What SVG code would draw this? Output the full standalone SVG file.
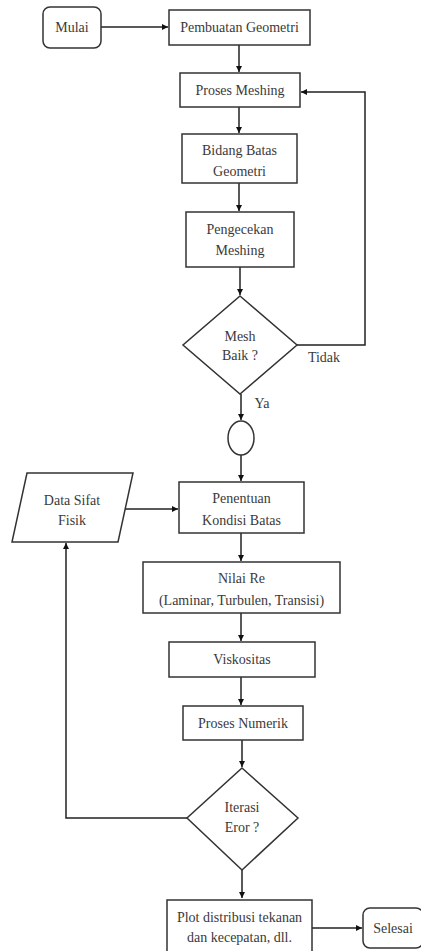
<svg xmlns="http://www.w3.org/2000/svg" width="421" height="951" viewBox="0 0 421 951">
<style>
.s{fill:#fff;stroke:#333;stroke-width:1.5}
.t{font-family:'Liberation Serif','Times New Roman',serif;font-size:14px;fill:#3a3a3a;text-anchor:middle}
.c{fill:none;stroke:#222;stroke-width:1.5}
</style>
<defs>
<marker id="a" viewBox="0 0 10 10" refX="10" refY="5" markerWidth="6" markerHeight="6" markerUnits="userSpaceOnUse" orient="auto"><path d="M0,0L10,5L0,10z" fill="#111"/></marker>
</defs>
<rect width="421" height="951" fill="#fff"/>
<g id="connectors">
<path class="c" d="M101,27H168" marker-end="url(#a)"/>
<path class="c" d="M239,45V72" marker-end="url(#a)"/>
<path class="c" d="M239,107V133" marker-end="url(#a)"/>
<path class="c" d="M239,183V211" marker-end="url(#a)"/>
<path class="c" d="M240,267V295" marker-end="url(#a)"/>
<path class="c" d="M297,345H365V92H301" marker-end="url(#a)"/>
<path class="c" d="M241,394V420" marker-end="url(#a)"/>
<path class="c" d="M241,455V481" marker-end="url(#a)"/>
<path class="c" d="M125,509H178" marker-end="url(#a)"/>
<path class="c" d="M241,533V561" marker-end="url(#a)"/>
<path class="c" d="M241,613V641" marker-end="url(#a)"/>
<path class="c" d="M241,677V705" marker-end="url(#a)"/>
<path class="c" d="M242,740V767" marker-end="url(#a)"/>
<path class="c" d="M187,818H66V543" marker-end="url(#a)"/>
<path class="c" d="M242,870V898" marker-end="url(#a)"/>
<path class="c" d="M312,928H362" marker-end="url(#a)"/>
<text class="t" x="324" y="362">Tidak</text>
<text class="t" x="262" y="408">Ya</text>
</g>
<g id="mulai"><rect class="s" x="43" y="7" width="58" height="41" rx="7"/><text class="t" x="72" y="32">Mulai</text></g>
<g id="pembuatan"><rect class="s" x="169" y="10" width="141" height="35"/><text class="t" x="239.5" y="32">Pembuatan Geometri</text></g>
<g id="proses-meshing"><rect class="s" x="180" y="73" width="120" height="34"/><text class="t" x="240" y="95">Proses Meshing</text></g>
<g id="bidang"><rect class="s" x="182" y="134" width="115" height="49"/><text class="t" x="239.5" y="155">Bidang Batas</text><text class="t" x="239.5" y="176">Geometri</text></g>
<g id="pengecekan"><rect class="s" x="186" y="212" width="108" height="55"/><text class="t" x="240" y="234">Pengecekan</text><text class="t" x="240" y="255">Meshing</text></g>
<g id="mesh-baik"><polygon class="s" points="240,296 297,345 240,394 183,345"/><text class="t" x="240" y="341">Mesh</text><text class="t" x="240" y="360">Baik ?</text></g>
<g id="konektor"><ellipse class="s" cx="241" cy="438" rx="13" ry="17"/></g>
<g id="data-sifat"><polygon class="s" points="27,473 133,473 118,542 12,542"/><text class="t" x="72" y="505">Data Sifat</text><text class="t" x="72" y="525">Fisik</text></g>
<g id="penentuan"><rect class="s" x="179" y="482" width="125" height="51"/><text class="t" x="241.5" y="503">Penentuan</text><text class="t" x="241.5" y="525">Kondisi Batas</text></g>
<g id="nilai-re"><rect class="s" x="143" y="562" width="197" height="51"/><text class="t" x="241.5" y="583">Nilai Re</text><text class="t" x="241.5" y="605">(Laminar, Turbulen, Transisi)</text></g>
<g id="viskositas"><rect class="s" x="169" y="642" width="146" height="35"/><text class="t" x="242" y="664">Viskositas</text></g>
<g id="proses-numerik"><rect class="s" x="183" y="706" width="120" height="34"/><text class="t" x="243" y="728">Proses Numerik</text></g>
<g id="iterasi"><polygon class="s" points="242,768 298,818 242,870 187,818"/><text class="t" x="242" y="812">Iterasi</text><text class="t" x="242" y="832">Eror ?</text></g>
<g id="plot"><rect class="s" x="167" y="900" width="145" height="60"/><text class="t" x="239.5" y="922">Plot distribusi tekanan</text><text class="t" x="239.5" y="942">dan kecepatan, dll.</text></g>
<g id="selesai"><rect class="s" x="363" y="908" width="60" height="40" rx="7"/><text class="t" x="393" y="933">Selesai</text></g>
</svg>
